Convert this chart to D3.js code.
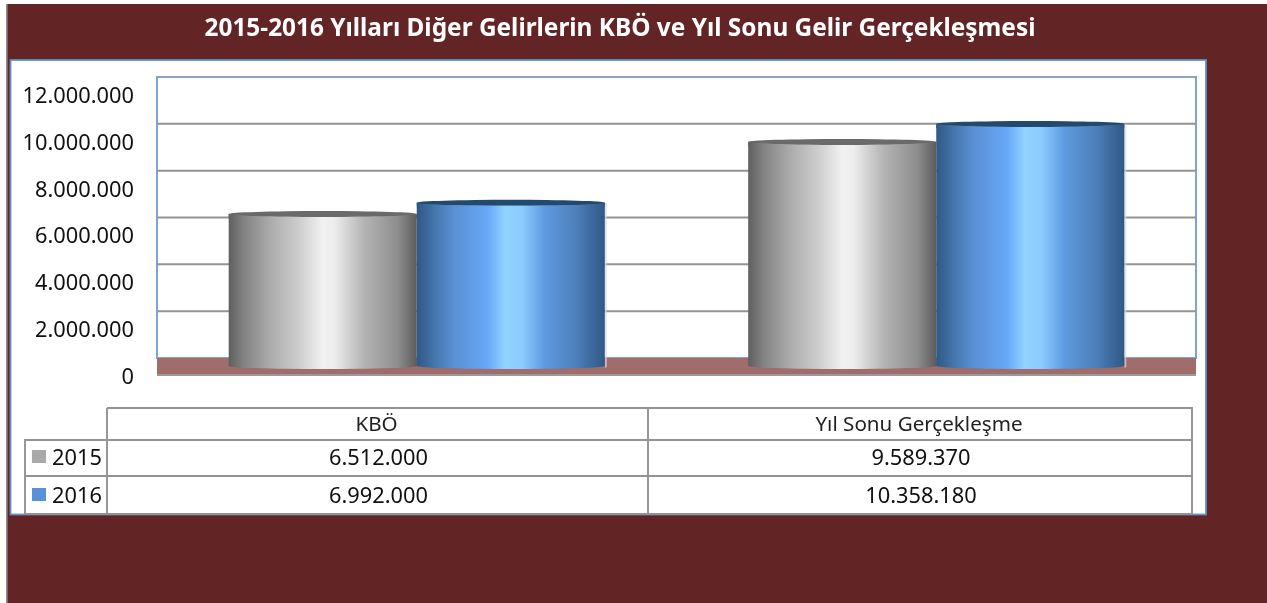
<!DOCTYPE html>
<html><head><meta charset="utf-8">
<script src="https://cdn.jsdelivr.net/npm/d3@7"></script>
<style>html,body{margin:0;padding:0;background:#fff;overflow:hidden}svg{display:block;filter:blur(0.5px)}text{font-family:"Noto Sans",sans-serif}</style>
</head><body><svg id="c" width="1267" height="603"></svg>
<script>
const titleText = "2015-2016 Yılları Diğer Gelirlerin KBÖ ve Yıl Sonu Gelir Gerçekleşmesi";
const categories = ["KBÖ", "Yıl Sonu Gerçekleşme"];
const seriesNames = ["2015", "2016"];
const values2015 = [6512000, 9589370];
const values2016 = [6992000, 10358180];
const tickValues = [0, 2000000, 4000000, 6000000, 8000000, 10000000, 12000000];
const swatchColors = ["#a9a9a9", "#5a90d8"];
const gradStops = [
  [[0,"#5f5f5f"],[.08,"#828282"],[.22,"#ababab"],[.38,"#cfcfcf"],[.5,"#f1f1f1"],[.56,"#ededed"],[.72,"#b4b4b4"],[.9,"#8d8d8d"],[1,"#5c5c5c"]],
  [[0,"#2f5885"],[.1,"#4677ae"],[.2,"#5a90d4"],[.38,"#68a8f8"],[.47,"#92d3ff"],[.56,"#8ccbff"],[.68,"#5e9ae0"],[.85,"#4d7fba"],[1,"#2f5885"]]
];
const topColors = ["#6a6a6a", "#24496f"];

const W=1267,H=603;
const svg=d3.select("#c");
const fmt=d3.formatLocale({decimal:",",thousands:".",grouping:[3],currency:["",""]}).format(",d");
const series=[values2015,values2016];

const defs=svg.append("defs");
gradStops.forEach((st,i)=>{
  const g=defs.append("linearGradient").attr("id","g"+i).attr("x1",0).attr("x2",1).attr("y1",0).attr("y2",0);
  st.forEach(s=>g.append("stop").attr("offset",s[0]).attr("stop-color",s[1]));
});

// background
svg.append("rect").attr("width",W).attr("height",H).attr("fill","#fff");
svg.append("rect").attr("x",6).attr("y",4).attr("width",W-6).attr("height",H-4).attr("fill","#622424");
svg.append("rect").attr("x",6).attr("y",4).attr("width",1.6).attr("height",H-4).attr("fill","#8f8f8f");
svg.append("text").attr("x",620).attr("y",36).attr("text-anchor","middle").attr("fill","#fff")
  .attr("font-size",24.4).attr("font-weight",700).text(titleText);

// panel
svg.append("rect").attr("x",10.5).attr("y",60).attr("width",1195.5).attr("height",454.5)
  .attr("fill","#fff").attr("stroke","#5f8fd0").attr("stroke-width",1.8);

const plotL=157,plotR=1196,depth=17;
const yFront=d3.scaleLinear().domain([0,12000000]).range([375,94]);
const x0=d3.scaleBand().domain(categories).range([plotL,plotR]).paddingInner(0.276).paddingOuter(0.138);
const x1=d3.scaleBand().domain(seriesNames).range([0,x0.bandwidth()]);

// back wall and gridlines
svg.append("rect").attr("x",plotL).attr("y",yFront(12000000)-depth).attr("width",plotR-plotL).attr("height",yFront(0)-yFront(12000000))
  .attr("fill","#fff").attr("stroke","#7fa3d4").attr("stroke-width",2);
svg.append("g").selectAll("line").data(tickValues.slice(1,6)).join("line")
  .attr("x1",plotL).attr("x2",plotR).attr("y1",d=>yFront(d)-depth).attr("y2",d=>yFront(d)-depth)
  .attr("stroke","#939393").attr("stroke-width",2);
svg.append("line").attr("x1",plotL).attr("x2",plotR).attr("y1",yFront(12000000)-depth).attr("y2",yFront(12000000)-depth)
  .attr("stroke","#8fa3bf").attr("stroke-width",2.2);
// floor
svg.append("rect").attr("x",plotL).attr("y",yFront(0)-depth).attr("width",plotR-plotL).attr("height",depth)
  .attr("fill","#a06c6c");
svg.append("line").attr("x1",plotL).attr("x2",plotR).attr("y1",yFront(0)).attr("y2",yFront(0))
  .attr("stroke","#9a9a9a").attr("stroke-width",2);

// axis labels
const axis=d3.axisLeft(yFront).tickValues(tickValues).tickFormat(fmt).tickSize(0).tickPadding(0);
const ag=svg.append("g").attr("transform","translate(134,1.5)").call(axis);
ag.select(".domain").remove();
ag.selectAll("text").attr("font-size",21.8).attr("fill","#111").attr("font-family","'Noto Sans',sans-serif");

// cylinders
const barOffset=8.5, ry=3;
const bars=svg.append("g");
categories.forEach((c,ci)=>{
  seriesNames.forEach((s,si)=>{
    const v=series[si][ci], w=x1.bandwidth(), x=x0(c)+x1(s);
    const top=yFront(v)-barOffset, base=yFront(0)-7.5;
    const rx=w/2;
    if(si===1){
      bars.append("rect").attr("x",x+w).attr("y",top).attr("width",2).attr("height",base-top).attr("fill","#d8d8d8").attr("opacity",.7);
    }
    bars.append("path")
      .attr("d",`M${x},${top}L${x},${base-ry/2}A${rx},${ry} 0 0 0 ${x+w},${base-ry/2}L${x+w},${top}Z`)
      .attr("fill",`url(#g${si})`);
    bars.append("ellipse").attr("cx",x+rx).attr("cy",top).attr("rx",rx).attr("ry",ry)
      .attr("fill",topColors[si]);
    bars.append("path")
      .attr("d",`M${x},${top}A${rx},${ry} 0 0 0 ${x+w},${top}L${x+w},${top+ry+1}L${x},${top+ry+1}Z`)
      .attr("fill",`url(#g${si})`);
  });
});

// data table
const colX=[25,107,648,1192], rowY=[408,440,476,514], rowText=[465,503];
const tb=svg.append("g").attr("fill","none").attr("stroke","#939393").attr("stroke-width",1.9);
tb.append("path").attr("d",`M${colX[1]},${rowY[0]}H${colX[3]}V${rowY[3]}H${colX[0]}V${rowY[1]}H${colX[3]}M${colX[0]},${rowY[2]}H${colX[3]}M${colX[1]},${rowY[0]}V${rowY[3]}M${colX[2]},${rowY[0]}V${rowY[3]}`);
categories.forEach((c,i)=>{
  svg.append("text").attr("x",(colX[i+1]+colX[i+2])/2-1).attr("y",rowY[0]+23).attr("text-anchor","middle")
    .attr("font-size",20.6).attr("fill","#222").text(c);
  seriesNames.forEach((s,si)=>{
    svg.append("text").attr("x",(colX[i+1]+colX[i+2])/2+1).attr("y",rowText[si]).attr("text-anchor","middle")
      .attr("font-size",21.8).attr("fill","#111").text(fmt(series[si][i]));
  });
});
seriesNames.forEach((s,si)=>{
  svg.append("rect").attr("x",32).attr("y",rowText[si]-15).attr("width",14).attr("height",13).attr("fill",swatchColors[si]);
  svg.append("text").attr("x",52).attr("y",rowText[si]).attr("font-size",21.8).attr("fill","#111").text(s);
});
</script></body></html>
